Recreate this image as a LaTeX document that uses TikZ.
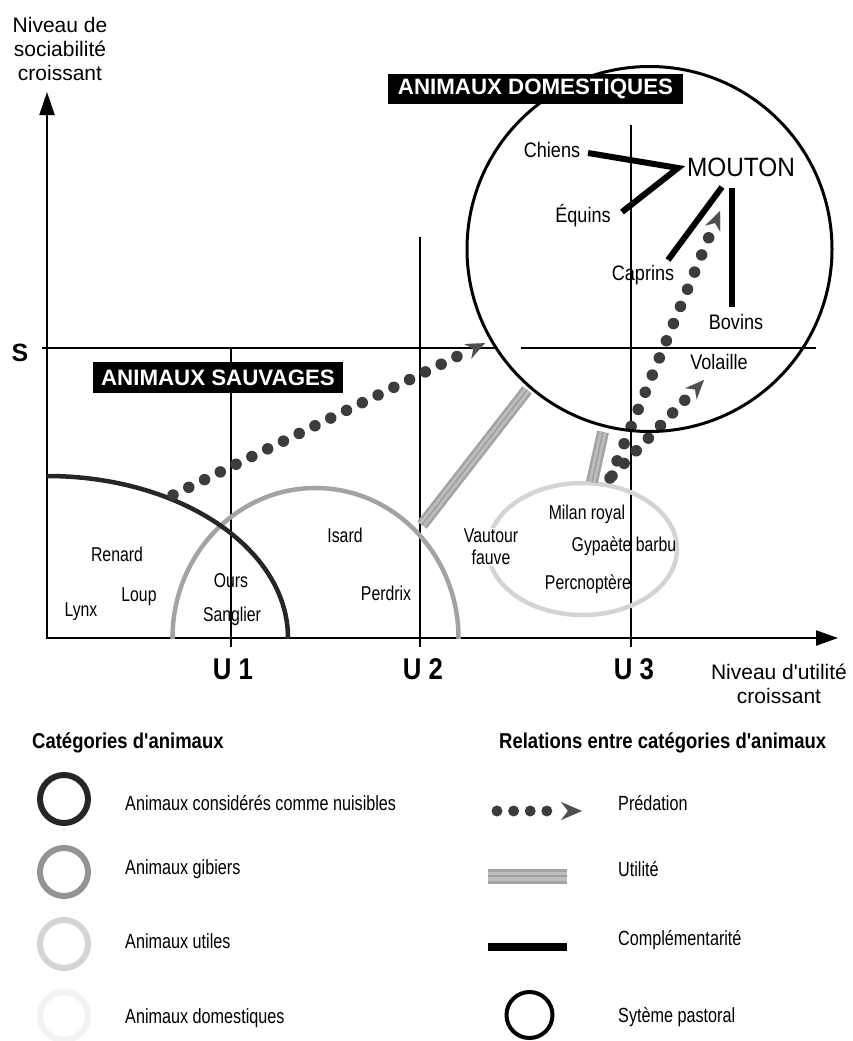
\documentclass[tikz,border=0pt]{standalone}
\usepackage{fontspec}
\setmainfont{Liberation Sans}[Ligatures=TeXOff]
\newfontfamily\cond{Liberation Sans}[FakeStretch=0.79,Ligatures=TeXOff]
\newfontfamily\condw{Liberation Sans}[FakeStretch=0.86,Ligatures=TeXOff]
\newfontfamily\condb{Liberation Sans}[FakeStretch=0.86,Ligatures=TeXOff]
\newfontfamily\moutonf{Liberation Sans}[FakeStretch=0.92,Ligatures=TeXOff]
\usetikzlibrary{arrows.meta,calc}
\definecolor{nuis}{HTML}{262626}
\definecolor{gib}{HTML}{A3A3A3}
\definecolor{gibleg}{HTML}{939393}
\definecolor{uti}{HTML}{D4D4D4}
\definecolor{dom}{HTML}{F2F2F2}
\definecolor{dotc}{HTML}{3C3C3C}
\definecolor{tipc}{HTML}{505050}
\begin{document}
\begin{tikzpicture}[x=1pt,y=-1pt,
  axis/.style={line width=2pt, {Triangle[length=23pt,width=15pt]}-{Triangle[length=22pt,width=15pt]}},
  uline/.style={line width=1.3pt},
  sline/.style={line width=1.5pt},
  lbl/.style={font=\cond\fontsize{20}{22}\selectfont, inner sep=0pt},
  clbl/.style={font=\condw\fontsize{21}{23}\selectfont, inner sep=0pt},
  axlbl/.style={font=\fontsize{21}{24}\selectfont, align=center, inner sep=0pt},
  ulbl/.style={font=\condb\bfseries\fontsize{30}{32}\selectfont, inner sep=0pt},
  catbox/.style={fill=black, text=white, font=\bfseries\fontsize{22.3}{24}\selectfont, inner sep=0pt},
  legh/.style={font=\condb\bfseries\fontsize{21.5}{24}\selectfont, anchor=west, inner sep=0pt},
  legt/.style={font=\cond\fontsize{20.5}{23}\selectfont, anchor=west, inner sep=0pt},
  compl/.style={line width=6pt, black},
  util/.style={line width=12pt, draw=gray!72, postaction={draw, line width=7pt, gray!52}, postaction={draw, line width=1.5pt, gray!75}},
  preddots/.style={line width=11.5pt, dotc, line cap=round, dash pattern=on 0pt off #1},
  predtip/.style={tipc, line width=0.1pt, -{Stealth[length=19pt,width=16pt,inset=6pt]}},
  ring/.style={line width=6pt},
]
\useasboundingbox (0,0) rectangle (853,1041);

% axes
\coordinate (O) at (47,638);
\coordinate (ytip) at (47,92);
\coordinate (xtip) at (838,638);
\draw[axis] (ytip) -- (O) -- (xtip);

% U lines and S line
\coordinate (u1t) at (231,348); \coordinate (u1b) at (231,647);
\coordinate (u2t) at (420,237); \coordinate (u2b) at (420,647);
\coordinate (u3t) at (631,125); \coordinate (u3b) at (631,647);
\draw[uline] (u1t) -- (u1b);
\draw[uline] (u2t) -- (u2b);
\draw[uline] (u3t) -- (u3b);
\coordinate (sa) at (42,348); \coordinate (sb) at (497,348);
\coordinate (sc) at (521,348); \coordinate (sd) at (816,348);
\draw[sline] (sa) -- (sb);
\draw[sline] (sc) -- (sd);

% category arcs
\begin{scope}
\clip (47,0) rectangle (853,638);
\draw[line width=4.5pt, gib] (315.5,638) ellipse[x radius=143pt, y radius=150pt];
\draw[line width=4.5pt, nuis] (O) ellipse[x radius=241pt, y radius=162pt];
\end{scope}
\draw[line width=4.5pt, uti] (582.5,549) ellipse[x radius=94.5pt, y radius=66pt];

% utility bars
\coordinate (ua1) at (422,525); \coordinate (ua2) at (527,390);
\coordinate (ub1) at (603,432); \coordinate (ub2) at (592,482);
\draw[util] (ua1) -- (ua2);
\draw[util] (ub1) -- (ub2);

% predation
\coordinate (s1) at (173,495); \coordinate (e1) at (458,356); \coordinate (t1) at (485,343);
\coordinate (sA) at (610,478); \coordinate (eA) at (709,237); \coordinate (tA) at (720,211);
\coordinate (sB) at (612,476); \coordinate (eB) at (685,400); \coordinate (tB) at (704,380);
\draw[preddots=17.55pt] (s1) -- (e1);
\draw[preddots=18.55pt] (sA) -- (eA);
\draw[preddots=17.5pt] (sB) -- (eB);
\draw[predtip] ($(t1)!10pt!(s1)$) -- (t1);
\draw[predtip] ($(tA)!10pt!(sA)$) -- (tA);
\draw[predtip] ($(tB)!10pt!(sB)$) -- (tB);

% pastoral system circle
\draw[line width=3pt] (649.5,249) circle[radius=182.5pt];

% complementarity
\coordinate (chA) at (588,153); \coordinate (mv) at (678,168); \coordinate (eqA) at (622,212);
\coordinate (caA) at (668,260); \coordinate (caB) at (722,187);
\coordinate (boA) at (732,188); \coordinate (boB) at (732,307);
\draw[compl, line join=miter] (chA) -- (mv) -- (eqA);
\draw[compl] (caA) -- (caB);
\draw[compl] (boA) -- (boB);

% boxes
\node[catbox, minimum width=295pt, minimum height=30pt] (dombox) at (535.5,89) {ANIMAUX DOMESTIQUES};
\node[catbox, minimum width=250pt, minimum height=31pt] (sauvbox) at (218,377.5) {ANIMAUX SAUVAGES};

% axis labels
\node[axlbl] (ylab) at (60,49) {Niveau de\\sociabilité\\croissant};
\node[axlbl] (xlab) at (779,684) {Niveau d'utilité\\croissant};
\node[font=\bfseries\fontsize{25}{27}\selectfont, inner sep=0pt] (slab) at (20,353) {S};
\node[ulbl] (U1) at (233,669) {U 1};
\node[ulbl] (U2) at (423,669) {U 2};
\node[ulbl] (U3) at (634,669) {U 3};

% domestic labels
\node[clbl] (chiens) at (552,150) {Chiens};
\node[clbl] (equins) at (583,216) {Équins};
\node[clbl] (caprins) at (643,275) {Caprins};
\node[clbl] (bovins) at (736,322) {Bovins};
\node[clbl] (volaille) at (719,362) {Volaille};
\node[font=\moutonf\fontsize{26.5}{28}\selectfont, inner sep=0pt] (mouton) at (741,167) {MOUTON};

% wild labels
\node[lbl] (renard) at (117,554) {Renard};
\node[lbl] (loup) at (139,597) {Loup};
\node[lbl] (lynx) at (81,612) {Lynx};
\node[lbl] (ours) at (231,581) {Ours};
\node[lbl] (sanglier) at (232,616) {Sanglier};
\node[lbl] (isard) at (345,535) {Isard};
\node[lbl] (perdrix) at (386,593) {Perdrix};
\node[lbl, align=center, fill=white, inner sep=1pt] (vautour) at (491,547) {Vautour\\fauve};
\node[lbl] (milan) at (587,514) {Milan royal};
\node[lbl] (gypaete) at (624,546) {Gypaète barbu};
\node[lbl] (percno) at (588,584) {Percnoptère};

% legend left
\node[legh] (cath) at (32,743) {Catégories d'animaux};
\draw[ring, nuis] (64,799) circle[radius=24pt];
\draw[ring, gibleg] (64,872) circle[radius=24pt];
\draw[ring, uti] (64,944) circle[radius=24pt];
\draw[ring, dom] (64,1016) circle[radius=24pt];
\node[legt] (l1) at (125,803) {Animaux considérés comme nuisibles};
\node[legt] (l2) at (125,869) {Animaux gibiers};
\node[legt] (l3) at (125,941) {Animaux utiles};
\node[legt] (l4) at (125,1018) {Animaux domestiques};

% legend right
\node[legh] (relh) at (499,743) {Relations entre catégories d'animaux};
\coordinate (lpa) at (497,811); \coordinate (lpb) at (547,811); \coordinate (lpt) at (582,811);
\draw[preddots=16.6pt, line width=11pt] (lpa) -- (lpb);
\draw[predtip, -{Stealth[length=21pt,width=18pt,inset=7pt]}] ($(lpt)!10pt!(lpa)$) -- (lpt);
\coordinate (lua) at (488,876); \coordinate (lub) at (567,876);
\draw[line width=15pt, gray!72, postaction={draw, line width=9pt, gray!52}, postaction={draw, line width=2pt, gray!75}] (lua) -- (lub);
\coordinate (lca) at (488,947); \coordinate (lcb) at (567,947);
\draw[line width=8pt, black] (lca) -- (lcb);
\draw[line width=4pt] (529.5,1015) circle[radius=23pt];
\node[legt] (r1) at (618,803) {Prédation};
\node[legt] (r2) at (618,869) {Utilité};
\node[legt] (r3) at (618,940) {Complémentarité};
\node[legt] (r4) at (618,1017) {Sytème pastoral};
\end{tikzpicture}
\end{document}
